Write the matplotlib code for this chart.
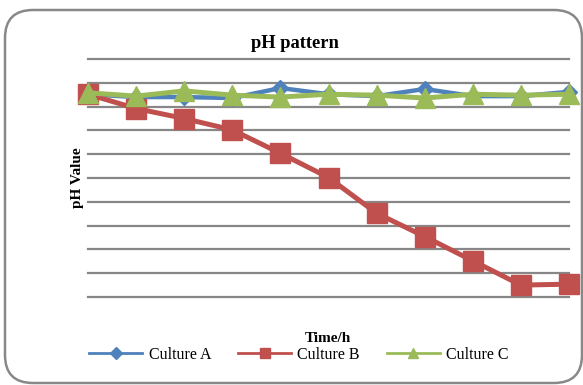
import matplotlib
matplotlib.use("Agg")
import matplotlib.pyplot as plt
from matplotlib.patches import FancyBboxPatch
from matplotlib.lines import Line2D

hours = list(range(11))
culture_a = [8.26, 8.20, 8.20, 8.18, 8.39, 8.26, 8.22, 8.37, 8.22, 8.22, 8.31]
culture_b = [8.26, 7.96, 7.75, 7.51, 7.02, 6.51, 5.76, 5.27, 4.76, 4.25, 4.27]
culture_c = [8.29, 8.22, 8.33, 8.24, 8.20, 8.26, 8.24, 8.18, 8.26, 8.24, 8.26]
y_ticks = [4.0, 4.5, 5.0, 5.5, 6.0, 6.5, 7.0, 7.5, 8.0, 8.5, 9.0]
series_labels = ['Culture A', 'Culture B', 'Culture C']

plt.rcParams['font.family'] = ['Liberation Serif', 'DejaVu Serif']

fig = plt.figure(figsize=(5.83, 3.85), dpi=100)
ax = fig.add_axes([88/583, 1-297/385, 481/583, 238/385])

for yv in y_ticks:
    ax.axhline(yv, color='#878787', lw=1.6, zorder=0, clip_on=False)

ax.plot(hours, culture_a, color='#4F81BD', lw=3.2, marker='D', ms=8,
        label=series_labels[0], clip_on=False, zorder=3)
ax.plot(hours, culture_b, color='#C0504D', lw=3.6, marker='s', ms=14,
        label=series_labels[1], clip_on=False, zorder=4)
ax.plot(hours, culture_c, color='#9BBB59', lw=3.6, marker='^', ms=15,
        label=series_labels[2], clip_on=False, zorder=5)

ax.set_xlim(hours[0], hours[-1])
ax.set_ylim(y_ticks[0], y_ticks[-1])
ax.set_xticks([])
ax.set_yticks([])
for s in ax.spines.values():
    s.set_visible(False)
ax.patch.set_alpha(0)

fig.text(295/583, 1-44/385, 'pH pattern', ha='center', va='center',
         fontsize=13.3, fontweight='bold')
fig.text(328/583, 1-339/385, 'Time/h', ha='center', va='center',
         fontsize=11, fontweight='bold')
fig.text(78/583, 1-178/385, 'pH Value', ha='center', va='center',
         fontsize=11, fontweight='bold', rotation=90)

lh = [Line2D([], [], color='#4F81BD', lw=2, marker='D', ms=6),
      Line2D([], [], color='#C0504D', lw=2, marker='s', ms=7),
      Line2D([], [], color='#9BBB59', lw=2, marker='^', ms=7)]
fig.legend(lh, series_labels, loc='center', bbox_to_anchor=(299/583, 1-355/385),
           ncol=3, frameon=False, fontsize=11.5, handlelength=3.3,
           handletextpad=0.4, columnspacing=1.7)

box = FancyBboxPatch((5, 2), 577, 373, boxstyle='round,pad=0,rounding_size=28',
                     transform=None, facecolor='none', edgecolor='#888888', lw=1.8)
fig.patches.append(box)

fig.savefig('out.png', dpi=100)
